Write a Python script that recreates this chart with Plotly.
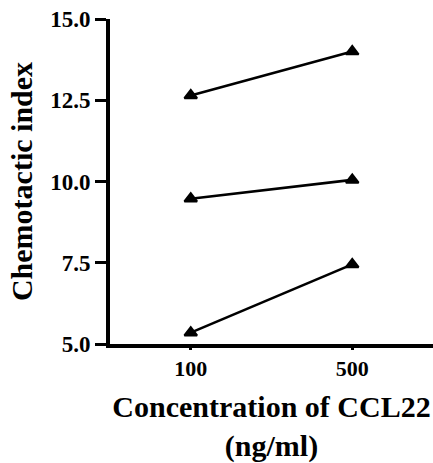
import plotly.graph_objects as go

# CCL22 concentrations (ng/ml) on the x axis
concentrations = ["100", "500"]

# Chemotactic index per donor across the two concentrations
donor_a = [12.65, 14.0]
donor_b = [9.47, 10.05]
donor_c = [5.35, 7.45]

y_ticks = [5.0, 7.5, 10.0, 12.5, 15.0]
y_tick_labels = ["5.0", "7.5", "10.0", "12.5", "15.0"]

serif = "Liberation Serif, Times New Roman, serif"
x_range = [-0.5, 1.5]

fig = go.Figure()
for series in (donor_a, donor_b, donor_c):
    fig.add_trace(go.Scatter(
        x=concentrations,
        y=series,
        mode="lines+markers",
        line=dict(color="black", width=2.6),
        marker=dict(symbol="triangle-up", size=11, color="black",
                    line=dict(color="black", width=2)),
        cliponaxis=False,
        showlegend=False,
    ))

fig.update_layout(
    width=433,
    height=463,
    margin=dict(l=110, r=0, t=19, b=119),
    paper_bgcolor="white",
    plot_bgcolor="white",
    font=dict(family=serif, color="black"),
    xaxis=dict(
        type="category",
        categoryorder="array",
        categoryarray=concentrations,
        range=x_range,
        showgrid=False,
        zeroline=False,
        showline=True,
        linecolor="black",
        linewidth=4,
        ticks="outside",
        ticklen=2,
        tickwidth=3,
        tickcolor="black",
        tickfont=dict(family=serif, size=22, color="black", weight="bold"),
        title=dict(
            text="Concentration of CCL22<br>(ng/ml)",
            font=dict(family=serif, size=30, color="black", weight="bold"),
            standoff=18,
        ),
    ),
    # companion axis that carries only the long tick marks, so the
    # category labels can sit closer to the axis line
    xaxis2=dict(
        overlaying="x",
        anchor="y",
        side="bottom",
        type="linear",
        range=x_range,
        tickmode="array",
        tickvals=list(range(len(concentrations))),
        showticklabels=False,
        ticks="outside",
        ticklen=9,
        tickwidth=3,
        tickcolor="black",
        showgrid=False,
        zeroline=False,
        showline=False,
    ),
    yaxis=dict(
        range=[5, 15],
        tickvals=y_ticks,
        ticktext=y_tick_labels,
        showgrid=False,
        zeroline=False,
        showline=True,
        linecolor="black",
        linewidth=4,
        ticks="outside",
        ticklen=11,
        tickwidth=3,
        tickcolor="black",
        tickfont=dict(family=serif, size=23, color="black", weight="bold"),
        title=dict(
            text="Chemotactic index",
            font=dict(family=serif, size=30, color="black", weight="bold"),
            standoff=10,
        ),
    ),
)

fig.write_html("out.html")
